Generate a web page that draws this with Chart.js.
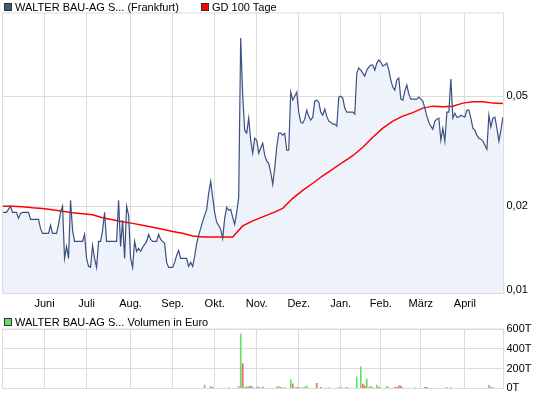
<!DOCTYPE html>
<html>
<head>
<meta charset="utf-8">
<script src="https://cdn.jsdelivr.net/npm/chart.js@4.4.1/dist/chart.umd.min.js"></script>
<style>
  body { margin: 0; background: #fff; width: 545px; height: 398px; overflow: hidden; position: relative;
         font-family: "Liberation Sans", Arial, sans-serif; font-size: 11px; color: #000; }
  .wrap { position: absolute; left: 0; width: 545px; }
  .box { position: absolute; box-sizing: border-box; width: 8px; height: 8px; border: 1px solid #333; }
  .lbl { position: absolute; white-space: nowrap; line-height: 12px; }
</style>
</head>
<body>
<div class="wrap" style="top:0;height:310px"><canvas id="priceChart"></canvas></div>
<div class="wrap" style="top:310px;height:88px"><canvas id="volChart"></canvas></div>

<span class="box" style="left:4px;top:3px;background:#44587f"></span>
<span class="lbl" style="left:15px;top:1px">WALTER BAU-AG S... (Frankfurt)</span>
<span class="box" style="left:201px;top:3px;background:#ff0000"></span>
<span class="lbl" style="left:212px;top:1px">GD 100 Tage</span>
<span class="box" style="left:4px;top:318px;background:#66dd66"></span>
<span class="lbl" style="left:15px;top:316px">WALTER BAU-AG S... Volumen in Euro</span>

<script>
// Kurs (ein Wert pro Handelstag)
const priceVals = [
  0.0190, 0.0190, 0.0190, 0.01949, 0.0200, 0.0190, 0.0190, 0.0190, 0.01808, 0.01885,
  0.0190, 0.0190, 0.0190, 0.0190, 0.01793, 0.01793, 0.01793, 0.01793, 0.01793, 0.01663,
  0.01596, 0.01596, 0.01596, 0.01596, 0.01706, 0.01596, 0.01596, 0.01596, 0.0172, 0.0190,
  0.0200, 0.01295, 0.01432, 0.01295, 0.02101, 0.01636, 0.01492, 0.01492, 0.01492, 0.01492,
  0.01492, 0.01582, 0.01295, 0.01212, 0.01202, 0.01443, 0.01295, 0.01202, 0.01492, 0.01492,
  0.01636, 0.0190, 0.01492, 0.01492, 0.01492, 0.01492, 0.01492, 0.01492, 0.02101, 0.01432,
  0.01778, 0.01295, 0.0200, 0.01854, 0.01295, 0.01202, 0.01492, 0.01373, 0.01408, 0.01373,
  0.0142, 0.01456, 0.01492, 0.01582, 0.01518, 0.01492, 0.01492, 0.01492, 0.01582, 0.01518,
  0.01492, 0.01468, 0.01253, 0.01202, 0.01202, 0.01202, 0.01253, 0.01328, 0.01385, 0.01295,
  0.01295, 0.01295, 0.01295, 0.01212, 0.01253, 0.01212, 0.01317, 0.01468, 0.01569, 0.01663,
  0.01764, 0.01854, 0.01949, 0.02228, 0.02462, 0.02154, 0.0190, 0.01749, 0.01706, 0.0165,
  0.0153, 0.01808, 0.01982, 0.01933, 0.01949, 0.01823, 0.0172, 0.0190, 0.02154, 0.0812,
  0.05046, 0.03768, 0.03675, 0.04165, 0.03467, 0.0311, 0.03525, 0.03467, 0.0311, 0.03243,
  0.03381, 0.03059, 0.02909, 0.02861, 0.02654, 0.02401, 0.02744, 0.0327, 0.03675, 0.03675,
  0.03614, 0.03675, 0.03189, 0.03189, 0.05175, 0.0484, 0.0500, 0.05175, 0.04379, 0.04028,
  0.03995, 0.04131, 0.04453, 0.04235, 0.04096, 0.0420, 0.0480, 0.0484, 0.0476, 0.04379,
  0.04271, 0.0449, 0.04235, 0.04062, 0.04028, 0.03962, 0.03962, 0.03896, 0.04962, 0.0500,
  0.04921, 0.04528, 0.04379, 0.04379, 0.04379, 0.04379, 0.04307, 0.06064, 0.06321, 0.06217,
  0.06064, 0.05913, 0.06217, 0.06374, 0.06482, 0.06482, 0.06217, 0.06591, 0.06758, 0.06646,
  0.06428, 0.06482, 0.06591, 0.06217, 0.05719, 0.05394, 0.05261, 0.05719, 0.05815, 0.04881,
  0.0484, 0.05218, 0.05486, 0.05089, 0.04881, 0.04881, 0.04881, 0.04881, 0.04962, 0.04881,
  0.0480, 0.04528, 0.04235, 0.04028, 0.03896, 0.0380, 0.04062, 0.04131, 0.04165, 0.03467,
  0.03832, 0.03438, 0.04379, 0.04379, 0.05767, 0.04165, 0.04343, 0.0420, 0.0420, 0.04271,
  0.04235, 0.0420, 0.04453, 0.04453, 0.04165, 0.03832, 0.03768, 0.03614, 0.03525, 0.03496,
  0.03438, 0.03325, 0.03216, 0.04271, 0.03864, 0.04165, 0.0420, 0.03832, 0.03438, 0.03768,
  0.0420
];

const gdStep = 5;
const gdVals = [
  0.0200, 0.0200, 0.01992, 0.01974, 0.01961, 0.01941, 0.01917, 0.01893, 0.01877, 0.01862,
  0.01816, 0.01786, 0.01759, 0.01734, 0.01706, 0.0168, 0.01652, 0.01622, 0.01596, 0.01562,
  0.01547, 0.01547, 0.01547, 0.01547, 0.01698, 0.01771, 0.01831, 0.01893, 0.01965, 0.02137,
  0.02284, 0.02422, 0.02578, 0.02722, 0.02885, 0.03046, 0.0327, 0.03554, 0.03832, 0.04062,
  0.04235, 0.04361, 0.04528, 0.04604, 0.04585, 0.04604, 0.04721, 0.04772, 0.04772, 0.04721,
  0.04708
];

// Volumen in Tausend Euro (nur Tage mit Umsatz)
const volIdx = [101, 104, 105, 113, 118, 119, 120, 121, 122, 123, 124, 125, 127, 128, 130,
  137, 138, 139, 141, 144, 145, 146, 147, 148, 150, 151, 152, 157, 159, 163, 168, 169, 172,
  177, 179, 180, 181, 182, 183, 184, 185, 187, 188, 192, 193, 196, 197, 198, 199, 200, 206,
  211, 212, 222, 224, 243, 244, 245];
const volVals = [33, 20, 10, 10, 20, 550, 250, 10, 17, 20, 23, 13, 13, 13, 13,
  17, 20, 10, 10, 87, 47, 10, 10, 10, 8, 13, 27, 50, 10, 8, 10, 10, 10,
  117, 217, 43, 27, 93, 13, 20, 10, 33, 13, 20, 10, 10, 10, 27, 23, 8, 8,
  10, 10, 10, 8, 33, 13, 8];
const volDir = ['u', 'u', 'd', 'f', 'u', 'u', 'd', 'u', 'd', 'u', 'd', 'u', 'u', 'd', 'd',
  'u', 'u', 'd', 'u', 'u', 'd', 'f', 'u', 'd', 'u', 'u', 'u', 'd', 'd', 'u', 'f', 'u', 'd',
  'u', 'u', 'd', 'd', 'u', 'f', 'u', 'f', 'u', 'd', 'u', 'f', 'd', 'd', 'd', 'd', 'f', 'f',
  'd', 'd', 'u', 'u', 'u', 'd', 'f'];

// Achsen
const monthIdx = [21, 42, 64, 85, 106, 127, 148, 169, 189, 209, 231];
const monthLabels = ['Juni', 'Juli', 'Aug.', 'Sep.', 'Okt.', 'Nov.', 'Dez.', 'Jan.', 'Feb.', 'März', 'April'];
const priceTicks = [0.01, 0.02, 0.05];
const volTicks = [0, 200, 400, 600];

Chart.defaults.font.family = '"Liberation Sans", Arial, sans-serif';
Chart.defaults.font.size = 11;
Chart.defaults.color = '#000';
Chart.defaults.animation = false;

const gridColor = '#dcdcdc';
const volColors = { u: '#66dd66', d: '#ee6666', f: '#bbbbbb' };

// weisser Hintergrund und Rahmen um die Zeichenfläche
const frame = {
  id: 'frame',
  beforeDraw(chart) {
    const { ctx, chartArea: a } = chart;
    ctx.save();
    ctx.fillStyle = '#fff';
    ctx.fillRect(a.left, a.top, a.width, a.height);
    ctx.restore();
  },
  afterDraw(chart) {
    const { ctx, chartArea: a } = chart;
    ctx.save();
    ctx.strokeStyle = gridColor;
    ctx.lineWidth = 1;
    ctx.strokeRect(a.left, a.top, a.width, a.height);
    ctx.restore();
  }
};

function monthAxis(showLabels, height) {
  return {
    type: 'linear',
    min: 0,
    max: 250.3,
    offset: false,
    afterBuildTicks: s => { s.ticks = monthIdx.map(v => ({ value: v })); },
    afterFit: s => { s.height = height; },
    border: { display: false },
    grid: { color: gridColor, drawTicks: false, offset: false },
    ticks: {
      display: showLabels,
      autoSkip: false,
      maxRotation: 0,
      padding: 4,
      callback: (v, i) => monthLabels[i]
    }
  };
}

new Chart(document.getElementById('priceChart'), {
  type: 'line',
  data: {
    datasets: [
      {
        data: priceVals.map((v, i) => ({ x: i, y: v })),
        borderColor: '#3d5080',
        borderWidth: 1.2,
        backgroundColor: 'rgb(238,242,250)',
        fill: 'start',
        pointRadius: 0,
        tension: 0
      },
      {
        data: gdVals.map((v, k) => ({ x: k * gdStep, y: v })),
        borderColor: '#ff0000',
        borderWidth: 1.5,
        fill: false,
        pointRadius: 0,
        tension: 0
      }
    ]
  },
  options: {
    responsive: true,
    maintainAspectRatio: false,
    layout: { padding: { left: 2.5, top: 13, right: 0, bottom: 0 } },
    plugins: { legend: { display: false }, tooltip: { enabled: false }, filler: { drawTime: 'beforeDatasetsDraw' } },
    scales: {
      x: monthAxis(true, 16.5),
      y: {
        type: 'logarithmic',
        position: 'right',
        min: 0.00967,
        max: 0.1,
        afterBuildTicks: s => { s.ticks = priceTicks.map(v => ({ value: v })); },
        afterFit: s => { s.width = 41.5; },
        border: { display: false },
        grid: { color: gridColor, drawTicks: false },
        ticks: { padding: 3, callback: v => String(v).replace('.', ',') }
      }
    }
  },
  plugins: [frame]
});

new Chart(document.getElementById('volChart'), {
  type: 'bar',
  data: {
    datasets: [{
      data: volIdx.map((x, k) => ({ x: x, y: volVals[k] })),
      backgroundColor: volDir.map(d => volColors[d]),
      barThickness: 1,
      borderWidth: 0
    }]
  },
  options: {
    responsive: true,
    maintainAspectRatio: false,
    layout: { padding: { left: 2.5, top: 19, right: 0, bottom: 0 } },
    plugins: { legend: { display: false }, tooltip: { enabled: false } },
    scales: {
      x: monthAxis(false, 8.5),
      y: {
        position: 'right',
        min: 0,
        max: 600,
        afterBuildTicks: s => { s.ticks = volTicks.map(v => ({ value: v })); },
        afterFit: s => { s.width = 41.5; },
        border: { display: false },
        grid: { color: gridColor, drawTicks: false },
        ticks: { padding: 3, callback: v => v + 'T' }
      }
    }
  },
  plugins: [frame]
});
</script>
</body>
</html>
